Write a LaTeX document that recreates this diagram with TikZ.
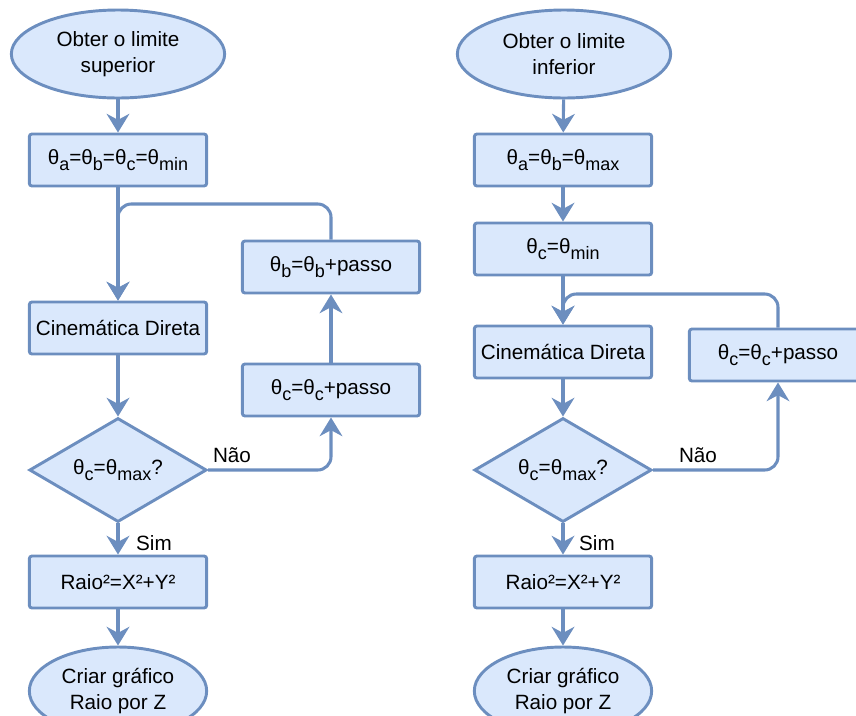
\documentclass[tikz,border=0pt]{standalone}
\usepackage{fontspec}
\setmainfont{Liberation Sans}
\usepackage{tikz}
\usetikzlibrary{arrows.meta,positioning,shapes.geometric}
\definecolor{boxfill}{HTML}{DAE8FC}
\definecolor{boxline}{HTML}{6C8EBF}
\newcommand{\thsub}[1]{θ\raisebox{-4pt}{\fontsize{13.5}{13.5}\selectfont #1}}

\begin{document}
\begin{tikzpicture}[x=0.75pt,y=-0.75pt,every node/.style={font=\fontsize{15.5}{19.5}\selectfont,align=center,text=black},
  box/.style={draw=boxline,fill=boxfill,line width=2.2pt,rounded corners=2pt,minimum width=133pt,minimum height=39pt},
  term/.style={ellipse,draw=boxline,fill=boxfill,line width=2.2pt,minimum width=160pt,minimum height=66pt},
  test/.style={diamond,aspect=1.7,inner sep=0pt,draw=boxline,fill=boxfill,line width=2.2pt,minimum width=133pt,minimum height=78pt},
  flow/.style={-{Stealth[length=14pt,width=17pt,inset=4.5pt]},line width=2.3pt,draw=boxline}]
  \useasboundingbox (0,0) rectangle (856,715);

  % Upper limit
  \node[term] (sup1) at (118,54) {Obter o limite\\superior};
  \node[box] (sup2) at (118,160) {\thsub{a}=\thsub{b}=\thsub{c}=\thsub{min}};
  \node[box] (sup3) at (118,328) {Cinemática Direta};
  \node[test] (sup4) at (118,470) {\thsub{c}=\thsub{max}?};
  \node[box] (sup5) at (118,582) {Raio²=X²+Y²};
  \node[term,minimum width=133pt] (sup6) at (118,691) {Criar gráfico\\Raio por Z};
  \node[box] (sup7) at (331,390) {\thsub{c}=\thsub{c}+passo};
  \node[box] (sup8) at (331,267) {\thsub{b}=\thsub{b}+passo};
  \coordinate (supj) at (118,204);
  \node (supno) at (232,455) {Não};
  \node (supyes) at (154,543) {Sim};
  \draw[flow] (sup1) -- (sup2);
  \draw[flow] (sup2) -- (sup3);
  \draw[flow] (sup3) -- (sup4);
  \draw[flow] (sup4) -- (sup5);
  \draw[flow] (sup5) -- (sup6);
  \draw[flow,rounded corners=10pt] (sup4.east) -| (sup7);
  \draw[flow] (sup7) -- (sup8);
  \draw[flow,rounded corners=10pt] (sup8.north) |- (supj) -- (sup3.north);

  % Lower limit
  \node[term] (inf1) at (564,54) {Obter o limite\\inferior};
  \node[box] (inf2) at (563,160) {\thsub{a}=\thsub{b}=\thsub{max}};
  \node[box] (inf3) at (563,249) {\thsub{c}=\thsub{min}};
  \node[box] (inf4) at (563,352) {Cinemática Direta};
  \node[test] (inf5) at (563,470) {\thsub{c}=\thsub{max}?};
  \node[box] (inf6) at (563,582) {Raio²=X²+Y²};
  \node[term,minimum width=133pt] (inf7) at (563,691) {Criar gráfico\\Raio por Z};
  \node[box] (inf8) at (778,355) {\thsub{c}=\thsub{c}+passo};
  \coordinate (infj) at (563,294);
  \node (infno) at (698,455) {Não};
  \node (infyes) at (597,543) {Sim};
  \draw[flow] (inf1) -- (inf2);
  \draw[flow] (inf2) -- (inf3);
  \draw[flow] (inf3) -- (inf4);
  \draw[flow] (inf4) -- (inf5);
  \draw[flow] (inf5) -- (inf6);
  \draw[flow] (inf6) -- (inf7);
  \draw[flow,rounded corners=10pt] (inf5.east) -| (inf8);
  \draw[flow,rounded corners=10pt] (inf8.north) |- (infj) -- (inf4.north);
\end{tikzpicture}
\end{document}
